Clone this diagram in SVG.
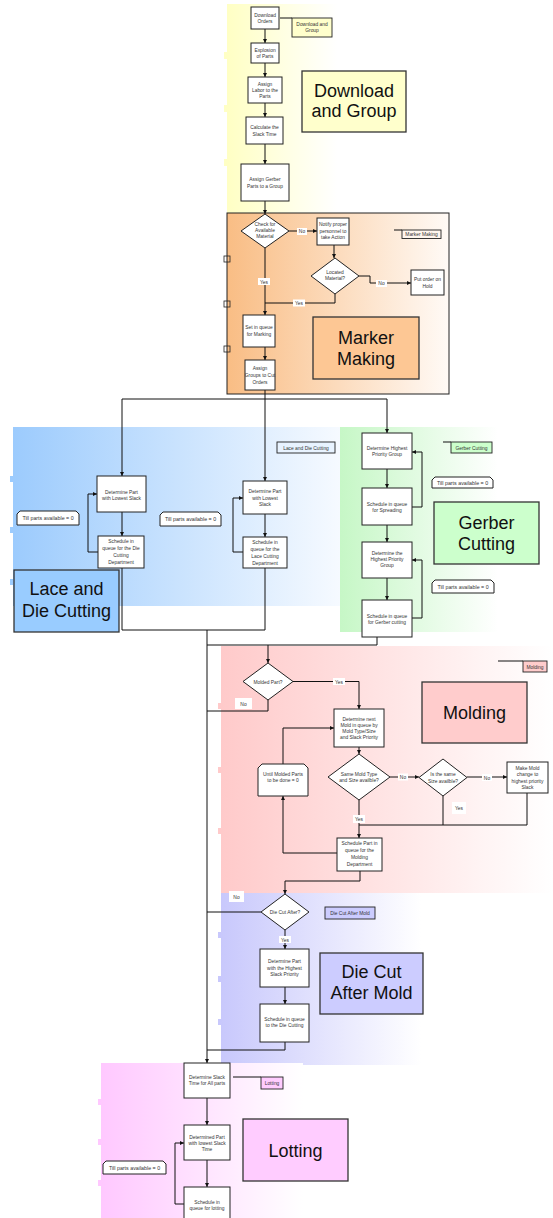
<svg xmlns="http://www.w3.org/2000/svg" width="553" height="1218" viewBox="0 0 553 1218">
<style>
.box{fill:#fff;stroke:#222;stroke-width:1}
.t{font-family:"Liberation Sans",Arial,sans-serif;font-size:4.9px;fill:#333;text-anchor:middle}
.tl{font-size:5.3px}
.big{font-family:"Liberation Sans",Arial,sans-serif;font-size:18px;fill:#111;text-anchor:middle}
.bigbox{stroke:#333;stroke-width:1.3}
.c{fill:none;stroke:#111;stroke-width:1}
.ca{fill:none;stroke:#111;stroke-width:1;marker-end:url(#ah)}
.lb{fill:#fff;stroke:none}
</style>
<defs>
<marker id="ah" viewBox="0 0 6 6" refX="6" refY="3" markerWidth="4" markerHeight="4" markerUnits="userSpaceOnUse" orient="auto"><path d="M0,0 L6,3 L0,6 z" fill="#111"/></marker>
<linearGradient id="gY" x1="0" y1="0" x2="1" y2="0"><stop offset="0" stop-color="#ffffc4"/><stop offset="1" stop-color="#ffffff"/></linearGradient>
<linearGradient id="gO" x1="0" y1="0" x2="1" y2="0"><stop offset="0" stop-color="#f9bd84"/><stop offset="1" stop-color="#fffaf6"/></linearGradient>
<linearGradient id="gB" x1="0" y1="0" x2="1" y2="0"><stop offset="0" stop-color="#9ccbfd"/><stop offset="1" stop-color="#f6faff"/></linearGradient>
<linearGradient id="gG" x1="0" y1="0" x2="1" y2="0"><stop offset="0" stop-color="#c6f7c6"/><stop offset="1" stop-color="#ffffff"/></linearGradient>
<linearGradient id="gR" x1="0" y1="0" x2="1" y2="0"><stop offset="0" stop-color="#ffcaca"/><stop offset="1" stop-color="#ffffff"/></linearGradient>
<linearGradient id="gV" x1="0" y1="0" x2="1" y2="0"><stop offset="0" stop-color="#c8c8fc"/><stop offset="1" stop-color="#ffffff"/></linearGradient>
<linearGradient id="gP" x1="0" y1="0" x2="1" y2="0"><stop offset="0" stop-color="#ffc8ff"/><stop offset="1" stop-color="#ffffff"/></linearGradient>
</defs>

<!-- lane backgrounds -->
<g id="lanes">
<rect x="227" y="4" width="110" height="209" fill="url(#gY)"/>
<rect x="224" y="52" width="3" height="7" fill="#ffffc4"/>
<rect x="224" y="105" width="3" height="7" fill="#ffffc4"/>
<rect x="224" y="159" width="3" height="7" fill="#ffffc4"/>
<rect x="227" y="213" width="222" height="181" fill="url(#gO)" stroke="#222" stroke-width="1"/>
<rect x="224" y="256" width="6" height="6" fill="none" stroke="#222" stroke-width="0.8"/>
<rect x="224" y="301" width="6" height="6" fill="none" stroke="#222" stroke-width="0.8"/>
<rect x="224" y="346" width="6" height="6" fill="none" stroke="#222" stroke-width="0.8"/>
<rect x="13" y="427" width="327" height="179" fill="url(#gB)"/>
<rect x="10" y="476" width="3" height="6" fill="#9ccbfd"/>
<rect x="10" y="527" width="3" height="6" fill="#9ccbfd"/>
<rect x="10" y="579" width="3" height="6" fill="#9ccbfd"/>
<rect x="340" y="427" width="158" height="205" fill="url(#gG)"/>
<rect x="221" y="646" width="332" height="247" fill="url(#gR)"/>
<rect x="218" y="703" width="3" height="6" fill="#ffcaca"/>
<rect x="218" y="767" width="3" height="6" fill="#ffcaca"/>
<rect x="218" y="828" width="3" height="6" fill="#ffcaca"/>
<rect x="221" y="893" width="200" height="172" fill="url(#gV)"/>
<rect x="218" y="932" width="3" height="6" fill="#c8c8fc"/>
<rect x="218" y="976" width="3" height="6" fill="#c8c8fc"/>
<rect x="218" y="1019" width="3" height="6" fill="#c8c8fc"/>
<rect x="101" y="1063" width="202" height="155" fill="url(#gP)"/>
<rect x="98" y="1099" width="3" height="6" fill="#ffc8ff"/>
<rect x="98" y="1139" width="3" height="6" fill="#ffc8ff"/>
<rect x="98" y="1180" width="3" height="6" fill="#ffc8ff"/>
</g>

<!-- connectors -->
<g id="connectors">
<path class="ca" d="M265,29 V43"/>
<path class="ca" d="M265,63 V77"/>
<path class="ca" d="M265,103 V117"/>
<path class="ca" d="M265,144 V164"/>
<path class="ca" d="M265,201 V214"/>
<path class="c" d="M280,18 H292"/>
<path class="ca" d="M289,231 H317"/>
<path class="c" d="M394,230 H402"/>
<path class="ca" d="M334,245 V258"/>
<path class="ca" d="M359,276 H370 V283 H411"/>
<path class="c" d="M335,294 V303 H265"/>
<path class="ca" d="M265,248 V315"/>
<path class="ca" d="M265,347 V360"/>
<path class="c" d="M265,390 V399"/>
<path class="c" d="M122,399 H387"/>
<path class="ca" d="M122,399 V476"/>
<path class="ca" d="M265,399 V481"/>
<path class="ca" d="M387,399 V433"/>
<path class="ca" d="M122,512 V536"/>
<path class="ca" d="M98,552 H88 V494 H97"/>
<path class="ca" d="M265,514 V537"/>
<path class="ca" d="M243,552 H233 V498 H243"/>
<path class="c" d="M122,568 V630 H265 M265,568 V630"/>
<path class="ca" d="M387,469 V488"/>
<path class="ca" d="M412,507 H422 V452 H412"/>
<path class="ca" d="M387,525 V542"/>
<path class="ca" d="M387,578 V600"/>
<path class="ca" d="M412,618 H422 V560 H412"/>
<path class="c" d="M443,442 H451"/>
<path class="c" d="M377,637 V645 H207"/>
<path class="ca" d="M268,645 V663"/>
<path class="ca" d="M207,630 V1063"/>
<path class="ca" d="M293,681.5 H359 V709"/>
<path class="c" d="M268,700 V711 H207"/>
<path class="c" d="M498,661 H523"/>
<path class="ca" d="M359,747 V754"/>
<path class="ca" d="M390,777 H419"/>
<path class="ca" d="M467,777 H507"/>
<path class="c" d="M527,793 V825 M443,796 V825"/>
<path class="c" d="M359,825 H527" stroke-width="1.6"/>
<path class="ca" d="M359,800 V838"/>
<path class="ca" d="M337,853 H283 V796"/>
<path class="ca" d="M283,764 V728 H334"/>
<path class="ca" d="M360,871 V881 H285 V894"/>
<path class="c" d="M261,912 H207"/>
<path class="ca" d="M285,930 V949"/>
<path class="ca" d="M285,987 V1004"/>
<path class="c" d="M285,1042 V1050 H207"/>
<path class="c" d="M233,1077 H261"/>
<path class="ca" d="M207,1098 V1125"/>
<path class="ca" d="M207,1160 V1187"/>
<path class="ca" d="M184,1204 H175 V1143 H184"/>
</g>

<!-- yes/no labels -->
<g id="edge-labels">
<rect class="lb" x="297" y="228" width="10" height="7"/><text class="t" x="302" y="233.3">No</text>
<rect class="lb" x="376" y="280" width="11" height="7"/><text class="t" x="381.5" y="285.2">No</text>
<rect class="lb" x="293" y="299.5" width="12" height="7"/><text class="t" x="299" y="305">Yes</text>
<rect class="lb" x="258" y="278" width="12" height="7"/><text class="t" x="264" y="283.7">Yes</text>
<rect class="lb" x="333" y="678" width="12" height="7"/><text class="t" x="339" y="683.8">Yes</text>
<rect class="lb" x="235" y="698" width="17" height="11"/><text class="t" x="243.5" y="705.5">No</text>
<rect class="lb" x="398" y="773.5" width="10" height="7"/><text class="t" x="403" y="779">No</text>
<rect class="lb" x="482" y="774" width="10" height="7"/><text class="t" x="487" y="779.5">No</text>
<rect class="lb" x="452" y="802" width="14" height="12"/><text class="t" x="459" y="810">Yes</text>
<rect class="lb" x="353" y="815" width="12" height="8"/><text class="t" x="359" y="820.8">Yes</text>
<rect class="lb" x="229" y="891" width="15" height="11"/><text class="t" x="236.5" y="898.5">No</text>
<rect class="lb" x="279" y="936" width="12" height="7"/><text class="t" x="285" y="941.8">Yes</text>
</g>

<!-- Download and Group -->
<g id="n-download-orders"><rect class="box" x="251" y="7" width="28" height="22"/><text class="t" x="265" y="16.9">Download<tspan x="265" dy="6.3">Orders</tspan></text></g>
<g id="n-dg-tag"><rect x="292" y="18" width="40" height="19" fill="#ffffcc" stroke="#222" stroke-width="0.9"/><text class="t" x="312" y="26">Download and<tspan x="312" dy="6.3">Group</tspan></text></g>
<g id="n-explosion"><rect class="box" x="251" y="43" width="28" height="20"/><text class="t" x="265" y="51.8">Explosion<tspan x="265" dy="6.3">of Parts</tspan></text></g>
<g id="n-assign-labor"><rect class="box" x="248" y="77" width="34" height="26"/><text class="t" x="265" y="85.6">Assign<tspan x="265" dy="6.3">Labor to the</tspan><tspan x="265" dy="6.3">Parts</tspan></text></g>
<g id="n-calc-slack"><rect class="box" x="246" y="117" width="37" height="27"/><text class="t" x="264.5" y="129.3">Calculate the<tspan x="264.5" dy="6.3">Slack Time</tspan></text></g>
<g id="n-assign-gerber"><rect class="box" x="241" y="164" width="48" height="37"/><text class="t" x="265" y="181.3">Assign Gerber<tspan x="265" dy="6.3">Parts to a Group</tspan></text></g>
<g id="n-dg-title"><rect class="bigbox" x="302" y="71" width="104" height="61" fill="#ffffcc"/><text class="big" x="354" y="97">Download<tspan x="354" dy="20">and Group</tspan></text></g>

<!-- Marker Making -->
<g id="n-check-material"><polygon class="box" points="265,214 289,231 265,248 241,231"/><text class="t" x="265" y="225.6">Check for<tspan x="265" dy="6.4">Available</tspan><tspan x="265" dy="6.4">Material</tspan></text></g>
<g id="n-notify"><rect class="box" x="317" y="218" width="32" height="27"/><text class="t" x="333" y="226">Notify proper<tspan x="333" dy="6.7">personnel  to</tspan><tspan x="333" dy="6.7">take Action</tspan></text></g>
<g id="n-mm-tag"><rect x="402" y="230" width="39" height="8.5" fill="#fff6ee" stroke="#222" stroke-width="0.9"/><text class="t" x="421.5" y="236.2">Marker Making</text></g>
<g id="n-located"><polygon class="box" points="335,258 359,276 335,294 311,276"/><text class="t" x="335" y="273.6">Located<tspan x="335" dy="6.3">Material?</tspan></text></g>
<g id="n-hold"><rect class="box" x="411" y="270" width="33" height="25"/><text class="t" x="427.5" y="281">Put order on<tspan x="427.5" dy="6.5">Hold</tspan></text></g>
<g id="n-set-queue"><rect class="box" x="243" y="315" width="32" height="32"/><text class="t" x="259" y="329.2">Set in queue<tspan x="259" dy="6.7">for Marking</tspan></text></g>
<g id="n-assign-groups"><rect class="box" x="245" y="360" width="30" height="30"/><text class="t" x="260" y="370.2">Assign<tspan x="260" dy="6.7">Groups to Cut</tspan><tspan x="260" dy="6.7">Orders</tspan></text></g>
<g id="n-mm-title"><rect class="bigbox" x="313" y="317" width="106" height="62" fill="#fdc794"/><text class="big" x="366" y="343.5">Marker<tspan x="366" dy="21">Making</tspan></text></g>

<!-- Lace and Die Cutting -->
<g id="n-lace-det1"><rect class="box" x="97" y="476" width="49" height="36"/><text class="t" x="121.5" y="493.6">Determine Part<tspan x="121.5" dy="6.6">with Lowest Slack</tspan></text></g>
<g id="n-lace-sch1"><rect class="box" x="98" y="536" width="46" height="32"/><text class="t" x="121" y="543">Schedule in<tspan x="121" dy="6.9">queue for the Die</tspan><tspan x="121" dy="6.9">Cutting</tspan><tspan x="121" dy="6.9">Department</tspan></text></g>
<g id="n-lace-till1"><path class="box" d="M17,525 V514 L20,511 H76 L79,514 V525 Z"/><text class="t tl" x="48" y="520">Till parts available = 0</text></g>
<g id="n-lace-det2"><rect class="box" x="243" y="481" width="44" height="33"/><text class="t" x="265" y="493">Determine Part<tspan x="265" dy="6.6">with Lowest</tspan><tspan x="265" dy="6.6">Slack</tspan></text></g>
<g id="n-lace-sch2"><rect class="box" x="243" y="537" width="44" height="31"/><text class="t" x="265" y="543.6">Schedule in<tspan x="265" dy="7">queue for the</tspan><tspan x="265" dy="7">Lace Cutting</tspan><tspan x="265" dy="7">Department</tspan></text></g>
<g id="n-lace-till2"><path class="box" d="M160,526 V515 L163,512 H218 L221,515 V526 Z"/><text class="t tl" x="190.5" y="521">Till parts available = 0</text></g>
<g id="n-lace-tag"><rect x="277" y="442" width="58" height="11" fill="#e8f3ff" stroke="#222" stroke-width="0.9"/><text class="t" x="306" y="449.6">Lace and Die Cutting</text></g>
<g id="n-lace-title"><rect class="bigbox" x="14" y="570" width="105" height="62" fill="#99ccff"/><text class="big" x="66.5" y="595">Lace and<tspan x="66.5" dy="21.5">Die Cutting</tspan></text></g>

<!-- Gerber Cutting -->
<g id="n-ger-det1"><rect class="box" x="362" y="433" width="50" height="36"/><text class="t" x="387" y="450.3">Determine Highest<tspan x="387" dy="6">Priority Group</tspan></text></g>
<g id="n-ger-sch1"><rect class="box" x="362" y="488" width="50" height="37"/><text class="t" x="387" y="505.5">Schedule in queue<tspan x="387" dy="6">for Spreading</tspan></text></g>
<g id="n-ger-till1"><path class="box" d="M432,488 V480 L435,477 H490 L493,480 V488 Z"/><text class="t tl" x="462.5" y="484.8">Till parts available = 0</text></g>
<g id="n-ger-tag"><rect x="451" y="442" width="41" height="11" fill="#ccffcc" stroke="#222" stroke-width="0.9"/><text class="t" x="471.5" y="449.6">Gerber Cutting</text></g>
<g id="n-ger-title"><rect class="bigbox" x="434" y="502" width="105" height="62" fill="#ccffcc"/><text class="big" x="486.5" y="528.5">Gerber<tspan x="486.5" dy="21">Cutting</tspan></text></g>
<g id="n-ger-det2"><rect class="box" x="362" y="542" width="50" height="36"/><text class="t" x="387" y="555.3">Determine the<tspan x="387" dy="6">Highest Priority</tspan><tspan x="387" dy="6">Group</tspan></text></g>
<g id="n-ger-sch2"><rect class="box" x="362" y="600" width="50" height="37"/><text class="t" x="387" y="617.5">Schedule in queue<tspan x="387" dy="6">for Gerber cutting</tspan></text></g>
<g id="n-ger-till2"><path class="box" d="M432,593 V583 L435,580 H491 L494,583 V593 Z"/><text class="t tl" x="463" y="588.8">Till parts available = 0</text></g>

<!-- Molding -->
<g id="n-molded"><polygon class="box" points="268,663 293,681.5 268,700 243,681.5"/><text class="t" x="268" y="683.5">Molded Part?</text></g>
<g id="n-mold-det"><rect class="box" x="334" y="709" width="50" height="38"/><text class="t" x="359" y="721.2">Determine next<tspan x="359" dy="6">Mold in queue by</tspan><tspan x="359" dy="6">Mold Type/Size</tspan><tspan x="359" dy="6">and Slack Priority</tspan></text></g>
<g id="n-mold-tag"><rect x="523" y="661" width="24" height="11" fill="#ffcccc" stroke="#222" stroke-width="0.9"/><text class="t" x="535" y="668.6">Molding</text></g>
<g id="n-mold-title"><rect class="bigbox" x="422" y="682" width="105" height="61" fill="#ffcccc"/><text class="big" x="474.5" y="718.5">Molding</text></g>
<g id="n-same-mold"><polygon class="box" points="359,754 390,777 359,800 328,777"/><text class="t" x="359" y="775.9">Same Mold Type<tspan x="359" dy="6">and Size availble?</tspan></text></g>
<g id="n-same-size"><polygon class="box" points="443,759 467,777.5 443,796 419,777.5"/><text class="t" x="443" y="776.2">Is the same<tspan x="443" dy="6.4">Size availble?</tspan></text></g>
<g id="n-make-mold"><rect class="box" x="507" y="762" width="41" height="31"/><text class="t" x="527.5" y="770.2">Make Mold<tspan x="527.5" dy="6.2">change to</tspan><tspan x="527.5" dy="6.2">highest priority</tspan><tspan x="527.5" dy="6.2">Slack</tspan></text></g>
<g id="n-until"><path class="box" d="M258,796 V768 L262,764 H304 L308,768 V796 Z"/><text class="t" x="283" y="775.9">Until Molded Parts<tspan x="283" dy="6">to be done = 0</tspan></text></g>
<g id="n-mold-sch"><rect class="box" x="337" y="838" width="45" height="33"/><text class="t" x="359.5" y="845.2">Schedule Part in<tspan x="359.5" dy="7">queue for the</tspan><tspan x="359.5" dy="7">Molding</tspan><tspan x="359.5" dy="7">Department</tspan></text></g>

<!-- Die Cut After Mold -->
<g id="n-diecut-q"><polygon class="box" points="285,894 309,912 285,930 261,912"/><text class="t" x="285" y="914">Die Cut After?</text></g>
<g id="n-dc-tag"><rect x="325" y="907" width="50" height="12" fill="#ccccff" stroke="#222" stroke-width="0.9"/><text class="t" x="350" y="915">Die Cut After Mold</text></g>
<g id="n-dc-det"><rect class="box" x="260" y="949" width="49" height="38"/><text class="t" x="284.5" y="963">Determine Part<tspan x="284.5" dy="6.6">with the Highest</tspan><tspan x="284.5" dy="6.6">Slack Priority</tspan></text></g>
<g id="n-dc-sch"><rect class="box" x="260" y="1004" width="49" height="38"/><text class="t" x="284.5" y="1021">Schedule in queue<tspan x="284.5" dy="6.4">to the Die Cutting</tspan></text></g>
<g id="n-dc-title"><rect class="bigbox" x="320" y="953" width="103" height="61" fill="#ccccff"/><text class="big" x="371.5" y="977.5">Die Cut<tspan x="371.5" dy="21.5">After Mold</tspan></text></g>

<!-- Lotting -->
<g id="n-lot-slack"><rect class="box" x="184" y="1063" width="46" height="35"/><text class="t" x="207" y="1079.4">Determine Slack<tspan x="207" dy="6">Time for All parts</tspan></text></g>
<g id="n-lot-tag"><rect x="261" y="1077" width="22" height="12" fill="#ffccff" stroke="#222" stroke-width="0.9"/><text class="t" x="272" y="1084.8">Lotting</text></g>
<g id="n-lot-det"><rect class="box" x="184" y="1125" width="46" height="35"/><text class="t" x="207" y="1138.6">Determined Part<tspan x="207" dy="6.3">with lowest Slack</tspan><tspan x="207" dy="6.3">Time</tspan></text></g>
<g id="n-lot-sch"><rect class="box" x="184" y="1187" width="46" height="34"/><text class="t" x="207" y="1203.6">Schedule in<tspan x="207" dy="6.6">queue for lotting</tspan></text></g>
<g id="n-lot-till"><path class="box" d="M103,1174 V1164 L106,1161 H163 L166,1164 V1174 Z"/><text class="t tl" x="134.5" y="1169.6">Till parts available = 0</text></g>
<g id="n-lot-title"><rect class="bigbox" x="243" y="1119" width="105" height="62" fill="#ffccff"/><text class="big" x="295.5" y="1156.5">Lotting</text></g>
</svg>
